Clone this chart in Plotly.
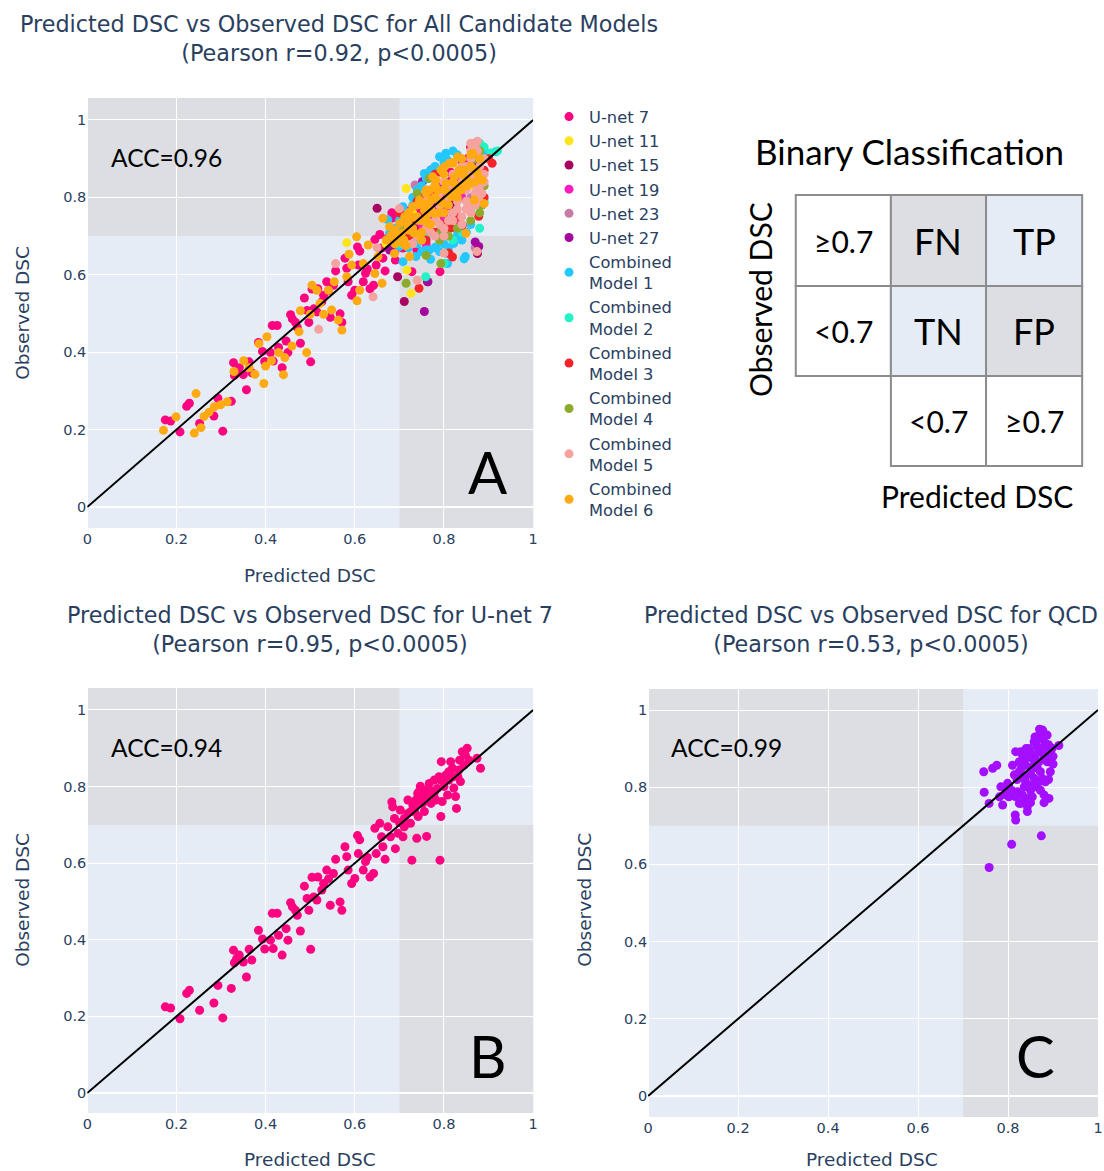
import plotly.graph_objects as go

W, H = 1104, 1171

# ------------------------------------------------------------------
# DATA  (predicted DSC, observed DSC) pairs
# ------------------------------------------------------------------
unet7 = [(0.175,0.225),(0.187,0.222),(0.208,0.194),(0.223,0.26),(0.229,0.268),(0.252,0.216),
         (0.284,0.235),(0.293,0.281),(0.304,0.196),(0.323,0.273),(0.328,0.373),(0.33,0.34),
         (0.335,0.351),(0.341,0.36),(0.35,0.342),(0.357,0.303),(0.363,0.375),(0.369,0.347),
         (0.384,0.425),(0.393,0.402),(0.398,0.376),(0.415,0.469),(0.426,0.469),(0.417,0.377),
         (0.411,0.399),(0.429,0.412),(0.437,0.36),(0.446,0.429),(0.45,0.399),(0.456,0.497),
         (0.46,0.486),(0.467,0.477),(0.471,0.464),(0.478,0.423),(0.487,0.54),(0.493,0.508),
         (0.497,0.477),(0.501,0.375),(0.508,0.512),(0.515,0.504),(0.504,0.563),(0.517,0.564),
         (0.526,0.53),(0.53,0.547),(0.537,0.582),(0.541,0.559),(0.545,0.49),(0.552,0.573),
         (0.557,0.61),(0.567,0.499),(0.571,0.477),(0.578,0.643),(0.582,0.617),(0.585,0.582),
         (0.593,0.547),(0.6,0.56),(0.606,0.672),(0.608,0.625),(0.611,0.661),(0.619,0.582),
         (0.624,0.604),(0.628,0.615),(0.634,0.564),(0.642,0.573),(0.645,0.691),(0.648,0.625),
         (0.656,0.704),(0.66,0.669),(0.663,0.643),(0.668,0.61),(0.674,0.695),(0.68,0.669),
         (0.683,0.76),(0.685,0.747),(0.689,0.717),(0.691,0.638),(0.697,0.678),(0.7,0.706),
         (0.702,0.739),(0.708,0.669),(0.711,0.717),(0.719,0.73),(0.725,0.704),(0.728,0.608),
         (0.73,0.752),(0.734,0.735),(0.737,0.765),(0.739,0.665),(0.742,0.722),(0.744,0.787),
         (0.747,0.801),(0.748,0.773),(0.752,0.756),(0.756,0.735),(0.759,0.791),(0.761,0.67),
         (0.763,0.778),(0.767,0.808),(0.771,0.756),(0.774,0.787),(0.778,0.817),(0.782,0.765),
         (0.785,0.795),(0.789,0.826),(0.791,0.608),(0.793,0.722),(0.794,0.865),(0.796,0.761),
         (0.8,0.8),(0.804,0.83),(0.808,0.778),(0.811,0.817),(0.815,0.865),(0.819,0.848),
         (0.822,0.796),(0.826,0.774),(0.828,0.743),(0.831,0.826),(0.835,0.869),(0.837,0.813),
         (0.841,0.891),(0.845,0.856),(0.848,0.882),(0.852,0.9),(0.856,0.869),(0.874,0.874),
         (0.882,0.848),(0.778,0.782),(0.756,0.765),(0.734,0.748),(0.811,0.839),(0.822,0.826),
         (0.833,0.843),(0.793,0.817),(0.767,0.791),(0.726,0.735),(0.711,0.695),(0.741,0.782),
         (0.719,0.765)]

unet11 = [(0.715,0.823),(0.726,0.552),(0.717,0.612),(0.67,0.68),(0.71,0.73),(0.73,0.76),
          (0.84,0.70),(0.86,0.83),(0.79,0.74),(0.88,0.90),(0.582,0.683)]

unet15 = [(0.65,0.772),(0.711,0.531),(0.696,0.595),(0.875,0.655),(0.771,0.871),(0.763,0.582),
          (0.82,0.78),(0.85,0.84),(0.74,0.73),(0.87,0.88),(0.80,0.70)]

unet19 = [(0.72,0.71),(0.75,0.73),(0.78,0.77),(0.83,0.83),(0.86,0.88),(0.69,0.66),
          (0.80,0.75),(0.84,0.80),(0.76,0.68),(0.88,0.91)]

unet23 = [(0.735,0.832),(0.808,0.655),(0.87,0.67),(0.77,0.79),(0.83,0.86),(0.86,0.80),
          (0.72,0.74),(0.80,0.88)]

unet27 = [(0.752,0.841),(0.878,0.673),(0.756,0.505),(0.678,0.664),(0.764,0.582),(0.87,0.685),
          (0.80,0.87),(0.86,0.93),(0.82,0.76),(0.74,0.70)]

combined1 = [(0.804,0.914),(0.808,0.897),(0.756,0.862),(0.763,0.849),(0.708,0.776),(0.674,0.742),
             (0.678,0.707),(0.70,0.673),(0.767,0.664),(0.822,0.681),(0.848,0.647),(0.737,0.647),
             (0.793,0.69),(0.916,0.918),(0.78,0.88),(0.79,0.905),(0.82,0.92),(0.75,0.83),
             (0.73,0.80),(0.72,0.76),(0.69,0.72),(0.71,0.69),(0.74,0.68),(0.76,0.70),
             (0.78,0.67),(0.80,0.68),(0.83,0.70),(0.85,0.71),(0.86,0.73),(0.808,0.629),
             (0.845,0.641),(0.782,0.672),(0.76,0.664),(0.708,0.634),(0.831,0.707),(0.90,0.91),
             (0.89,0.92),(0.77,0.64),(0.77,0.87),(0.76,0.85),(0.74,0.82),(0.73,0.78),
             (0.71,0.75),(0.70,0.74),(0.69,0.70),(0.72,0.67),(0.75,0.66),(0.79,0.66),
             (0.81,0.67),(0.84,0.69),(0.80,0.89),(0.83,0.91),(0.79,0.87)]

combined2 = [(0.92,0.92),(0.905,0.915),(0.759,0.595),(0.89,0.93),(0.88,0.94),(0.86,0.77),
             (0.84,0.71),(0.82,0.69),(0.76,0.71),(0.70,0.68),(0.78,0.83),(0.89,0.79),
             (0.80,0.63),(0.88,0.72)]

combined3 = [(0.908,0.888),(0.811,0.656),(0.815,0.721),(0.878,0.751),(0.841,0.728),(0.744,0.565),
             (0.819,0.646),(0.87,0.94),(0.86,0.93),(0.89,0.87),(0.90,0.90),(0.88,0.82),
             (0.87,0.79),(0.80,0.73),(0.78,0.71),(0.76,0.69),(0.83,0.75),(0.72,0.70),
             (0.70,0.76),(0.74,0.79),(0.78,0.86),(0.89,0.80)]

combined4 = [(0.767,0.849),(0.793,0.711),(0.885,0.78),(0.715,0.578),(0.793,0.629),(0.88,0.92),
             (0.87,0.90),(0.885,0.85),(0.88,0.76),(0.86,0.74),(0.83,0.72),(0.81,0.70),
             (0.79,0.69),(0.75,0.74),(0.73,0.71),(0.71,0.72),(0.89,0.83),(0.74,0.81),
             (0.76,0.65),(0.87,0.93)]

combined5 = [(0.80,0.84),(0.82,0.86),(0.84,0.88),(0.86,0.90),(0.87,0.93),(0.875,0.945),
             (0.86,0.92),(0.85,0.86),(0.83,0.82),(0.81,0.80),(0.79,0.78),(0.77,0.76),
             (0.85,0.82),(0.87,0.86),(0.88,0.88),(0.885,0.81),(0.87,0.78),(0.86,0.76),
             (0.84,0.75),(0.82,0.74),(0.80,0.72),(0.78,0.70),(0.76,0.72),(0.74,0.70),
             (0.72,0.72),(0.70,0.771),(0.874,0.66),(0.80,0.656),(0.74,0.586),(0.519,0.459),
             (0.557,0.629),(0.641,0.543),(0.65,0.67),(0.89,0.90),(0.88,0.83),(0.83,0.79),
             (0.85,0.79),(0.79,0.81),(0.81,0.83),(0.76,0.79),(0.85,0.77),(0.86,0.78),
             (0.87,0.81),(0.88,0.85),(0.89,0.86),(0.88,0.79),(0.87,0.83),(0.86,0.85),
             (0.84,0.84),(0.85,0.88),(0.86,0.94),(0.83,0.77),(0.82,0.76),(0.81,0.74),
             (0.79,0.73),(0.77,0.71),(0.75,0.69),(0.73,0.68),(0.875,0.92),(0.865,0.87),
             (0.89,0.84),(0.84,0.73),(0.80,0.70),(0.78,0.74)]

combined6 = [(0.171,0.198),(0.199,0.233),(0.244,0.293),(0.24,0.191),(0.255,0.205),(0.262,0.234),
             (0.273,0.245),(0.285,0.259),(0.299,0.264),(0.314,0.272),(0.329,0.35),(0.351,0.378),
             (0.363,0.36),(0.376,0.343),(0.385,0.422),(0.396,0.319),(0.4,0.364),(0.403,0.44),
             (0.413,0.378),(0.429,0.399),(0.44,0.342),(0.443,0.386),(0.459,0.416),(0.475,0.453),
             (0.478,0.507),(0.492,0.399),(0.5,0.498),(0.504,0.573),(0.515,0.56),(0.522,0.526),
             (0.53,0.498),(0.541,0.56),(0.548,0.509),(0.554,0.582),(0.563,0.483),(0.571,0.457),
             (0.582,0.595),(0.587,0.653),(0.593,0.625),(0.604,0.698),(0.605,0.533),(0.611,0.56),
             (0.619,0.629),(0.63,0.677),(0.645,0.603),(0.652,0.647),(0.661,0.578),(0.663,0.746),
             (0.671,0.69),(0.678,0.724),(0.689,0.655),(0.693,0.698),(0.701,0.733),(0.708,0.681),
             (0.712,0.75),(0.719,0.716),(0.723,0.647),(0.73,0.776),(0.734,0.707),(0.741,0.741),
             (0.745,0.793),(0.749,0.69),(0.756,0.767),(0.76,0.819),(0.764,0.733),(0.771,0.793),
             (0.775,0.853),(0.779,0.759),(0.786,0.819),(0.793,0.871),(0.797,0.784),(0.805,0.836),
             (0.812,0.888),(0.816,0.802),(0.823,0.853),(0.831,0.905),(0.838,0.819),(0.845,0.871),
             (0.849,0.707),(0.857,0.836),(0.864,0.914),(0.868,0.793),(0.875,0.862),(0.886,0.845),
             (0.89,0.784),(0.689,0.716),(0.705,0.707),(0.727,0.75),(0.753,0.784),(0.768,0.819),
             (0.782,0.845),(0.801,0.879),(0.82,0.888),(0.834,0.871),(0.827,0.819),
             (0.70,0.70),(0.71,0.69),(0.72,0.73),(0.73,0.72),(0.74,0.75),(0.75,0.74),
             (0.76,0.78),(0.77,0.77),(0.78,0.80),(0.79,0.79),(0.80,0.82),(0.81,0.81),
             (0.82,0.84),(0.83,0.83),(0.84,0.86),(0.85,0.85),(0.86,0.88),(0.87,0.87),
             (0.88,0.90),(0.72,0.76),(0.74,0.78),(0.76,0.81),(0.78,0.83),(0.80,0.86),
             (0.82,0.89),(0.75,0.71),(0.77,0.73),(0.79,0.76),(0.81,0.78),(0.83,0.80),
             (0.85,0.83),(0.87,0.84),(0.69,0.68),(0.68,0.70),(0.715,0.675),(0.745,0.705),
             (0.84,0.90),(0.86,0.91),(0.80,0.76),(0.76,0.75)]

qcd = [(0.758,0.592),(0.808,0.652),(0.874,0.674),(0.816,0.728),(0.817,0.715),(0.843,0.737),
       (0.747,0.787),(0.746,0.84),(0.766,0.849),(0.775,0.857),(0.758,0.758),(0.784,0.801),
       (0.788,0.754),(0.802,0.775),(0.799,0.81),(0.81,0.857),(0.821,0.788),(0.825,0.758),
       (0.828,0.892),(0.832,0.827),(0.836,0.866),(0.843,0.771),(0.847,0.9),(0.85,0.836),
       (0.854,0.875),(0.858,0.918),(0.861,0.801),(0.865,0.849),(0.869,0.935),(0.872,0.892),
       (0.876,0.823),(0.877,0.948),(0.88,0.78),(0.883,0.914),(0.887,0.866),(0.891,0.771),
       (0.894,0.84),(0.898,0.901),(0.887,0.935),(0.913,0.908),(0.817,0.892),(0.825,0.84),
       (0.839,0.814),(0.854,0.805),(0.869,0.814),(0.88,0.875),(0.865,0.905),(0.85,0.792),
       (0.839,0.857),(0.814,0.832),(0.832,0.78),(0.876,0.927),(0.861,0.884),(0.883,0.814),
       (0.891,0.892),(0.828,0.758),(0.843,0.75),(0.802,0.801),(0.781,0.775),(0.825,0.866),
       (0.832,0.884),(0.854,0.853),(0.869,0.866),(0.883,0.884),(0.872,0.84),(0.858,0.823),
       (0.891,0.866),(0.865,0.922),(0.88,0.9),(0.843,0.879),(0.817,0.775),(0.795,0.78),
       (0.836,0.801),(0.854,0.775),(0.872,0.792),(0.84,0.83),(0.86,0.86),(0.87,0.90),
       (0.85,0.89),(0.86,0.93),(0.87,0.95),(0.88,0.93),(0.89,0.91),(0.90,0.88),(0.89,0.82),
       (0.86,0.81),(0.82,0.82),(0.81,0.79),(0.79,0.80),(0.83,0.76),(0.85,0.76),(0.88,0.76),
       (0.84,0.90),(0.83,0.85),(0.90,0.86)]

model_names = ["U-net 7", "U-net 11", "U-net 15", "U-net 19", "U-net 23", "U-net 27",
               "Combined<br>Model 1", "Combined<br>Model 2", "Combined<br>Model 3",
               "Combined<br>Model 4", "Combined<br>Model 5", "Combined<br>Model 6"]
model_colors = ["#FC0380", "#FFE41C", "#A8045F", "#FF1CBE", "#C97BA8", "#A3079D",
                "#22C8FF", "#22F2C6", "#F5222A", "#8CAB2C", "#F6A39F", "#FFAA12"]
model_data = [unet7, unet11, unet15, unet19, unet23, unet27,
              combined1, combined2, combined3, combined4, combined5, combined6]
qcd_color = "#A40FFF"

diag_x = [0, 1]
diag_y = [0, 1]
threshold = 0.7

# ------------------------------------------------------------------
def px(x):  # pixel -> paper x
    return x / W

def py(y):  # pixel -> paper y
    return 1 - y / H

FONT = "DejaVu Sans, Verdana, sans-serif"
CAL = "Lato, 'Noto Sans', sans-serif"
TXT = "#2a3f5f"
GRAY = "#DCDEE3"
BLUE = "#E5ECF6"

fig = go.Figure()

for name, col, pts in zip(model_names, model_colors, model_data):
    fig.add_trace(go.Scatter(x=[p[0] for p in pts], y=[p[1] for p in pts], mode="markers",
                             name=name, marker=dict(color=col, size=9),
                             xaxis="x", yaxis="y"))
fig.add_trace(go.Scatter(x=diag_x, y=diag_y, mode="lines", line=dict(color="black", width=2),
                         showlegend=False, xaxis="x", yaxis="y"))

fig.add_trace(go.Scatter(x=[p[0] for p in unet7], y=[p[1] for p in unet7], mode="markers",
                         name="U-net 7", marker=dict(color=model_colors[0], size=9),
                         showlegend=False, xaxis="x2", yaxis="y2"))
fig.add_trace(go.Scatter(x=diag_x, y=diag_y, mode="lines", line=dict(color="black", width=2),
                         showlegend=False, xaxis="x2", yaxis="y2"))

fig.add_trace(go.Scatter(x=[p[0] for p in qcd], y=[p[1] for p in qcd], mode="markers",
                         name="QCD", marker=dict(color=qcd_color, size=9),
                         showlegend=False, xaxis="x3", yaxis="y3"))
fig.add_trace(go.Scatter(x=diag_x, y=diag_y, mode="lines", line=dict(color="black", width=2),
                         showlegend=False, xaxis="x3", yaxis="y3"))

# axes domains in pixels
panels = {
    "A": dict(x=(83, 533), y=(98, 528), yr=[-0.0543, 1.0568]),
    "B": dict(x=(83, 533), y=(688, 1113), yr=[-0.0522, 1.0574]),
    "C": dict(x=(649, 1103), y=(689, 1117), yr=[-0.0544, 1.0544]),
}

axis_common = dict(showgrid=True, gridcolor="white", gridwidth=1, zeroline=True,
                   zerolinecolor="white", zerolinewidth=2, showline=False, ticks="",
                   tickfont=dict(family=FONT, size=14.5, color=TXT), dtick=0.2, tick0=0)

layout = dict(width=W, height=H, margin=dict(l=0, r=0, t=0, b=0),
              paper_bgcolor="white", plot_bgcolor=BLUE, font=dict(family=FONT, color=TXT),
              showlegend=True,
              legend=dict(x=px(549), y=py(99.5), xanchor="left", yanchor="top",
                          font=dict(family=FONT, size=16.3, color=TXT), bgcolor="rgba(0,0,0,0)",
                          tracegroupgap=0, itemsizing="trace"))

for i, key in enumerate(["A", "B", "C"]):
    p = panels[key]
    sfx = "" if i == 0 else str(i + 1)
    layout["xaxis" + sfx] = dict(domain=[px(p["x"][0]), px(p["x"][1])], range=[0, 1],
                                 anchor="y" + sfx, **axis_common)
    layout["yaxis" + sfx] = dict(domain=[py(p["y"][1]), py(p["y"][0])], range=p["yr"],
                                 anchor="x" + sfx, **axis_common)

fig.update_layout(**layout)

shapes = []
for sfx in ["", "2", "3"]:
    shapes.append(dict(type="rect", xref="x" + sfx, yref="y" + sfx, x0=threshold, x1=2,
                       y0=-1, y1=threshold, fillcolor=GRAY, line=dict(width=0), layer="below"))
    shapes.append(dict(type="rect", xref="x" + sfx, yref="y" + sfx, x0=-1, x1=threshold,
                       y0=threshold, y1=2, fillcolor=GRAY, line=dict(width=0), layer="below"))

# binary classification table
col_edges = [798, 894, 990, 1087]
row_edges = [195, 286, 376, 466]
cells = [
    (0, 0, "≥0.7", "white", 30), (0, 1, "FN", GRAY, 36), (0, 2, "TP", BLUE, 36),
    (1, 0, "<0.7", "white", 30), (1, 1, "TN", BLUE, 36), (1, 2, "FP", GRAY, 36),
    (2, 1, "<0.7", "white", 30), (2, 2, "≥0.7", "white", 30),
]
annotations = []
for r, c, txt, fill, fs in cells:
    x0, x1 = col_edges[c], col_edges[c + 1]
    y0, y1 = row_edges[r], row_edges[r + 1]
    shapes.append(dict(type="rect", xref="paper", yref="paper", x0=px(x0), x1=px(x1),
                       y0=py(y1), y1=py(y0), fillcolor=fill,
                       line=dict(color="#8C8C8C", width=2), layer="above"))
    annotations.append(dict(xref="paper", yref="paper", x=px((x0 + x1) / 2), y=py((y0 + y1) / 2),
                            text=txt, showarrow=False, xanchor="center", yanchor="middle",
                            font=dict(family=CAL, size=fs, color="black")))

annotations += [
    dict(x=px(913), y=py(151), text="Binary Classification", font=dict(family=CAL, size=35, color="black")),
    dict(x=px(762), y=py(300), text="Observed DSC", textangle=-90, font=dict(family=CAL, size=30, color="black")),
    dict(x=px(981), y=py(496), text="Predicted DSC", font=dict(family=CAL, size=30, color="black")),
    # panel titles
    dict(x=px(337), y=py(38), text="Predicted DSC vs Observed DSC for All Candidate Models<br>(Pearson r=0.92, p&lt;0.0005)",
         font=dict(family=FONT, size=22.3, color=TXT)),
    dict(x=px(308), y=py(629), text="Predicted DSC vs Observed DSC for U-net 7<br>(Pearson r=0.95, p&lt;0.0005)",
         font=dict(family=FONT, size=22.3, color=TXT)),
    dict(x=px(874), y=py(629), text="Predicted DSC vs Observed DSC for QCD<br>(Pearson r=0.53, p&lt;0.0005)",
         font=dict(family=FONT, size=22.3, color=TXT)),
    # axis titles
    dict(x=px(308), y=py(575), text="Predicted DSC", font=dict(family=FONT, size=18.5, color=TXT)),
    dict(x=px(308), y=py(1159), text="Predicted DSC", font=dict(family=FONT, size=18.5, color=TXT)),
    dict(x=px(875), y=py(1159), text="Predicted DSC", font=dict(family=FONT, size=18.5, color=TXT)),
    dict(x=px(17), y=py(313), text="Observed DSC", textangle=-90, font=dict(family=FONT, size=18.5, color=TXT)),
    dict(x=px(17), y=py(900), text="Observed DSC", textangle=-90, font=dict(family=FONT, size=18.5, color=TXT)),
    dict(x=px(584), y=py(900), text="Observed DSC", textangle=-90, font=dict(family=FONT, size=18.5, color=TXT)),
    # ACC labels and panel letters
    dict(x=px(105), y=py(157), text="ACC=0.96", xanchor="left", font=dict(family=CAL, size=24.5, color="black")),
    dict(x=px(105), y=py(747), text="ACC=0.94", xanchor="left", font=dict(family=CAL, size=24.5, color="black")),
    dict(x=px(670), y=py(747), text="ACC=0.99", xanchor="left", font=dict(family=CAL, size=24.5, color="black")),
    dict(x=px(487), y=py(471), text="A", font=dict(family=CAL, size=58, color="black")),
    dict(x=px(487), y=py(1055), text="B", font=dict(family=CAL, size=58, color="black")),
    dict(x=px(1040), y=py(1055), text="C", font=dict(family=CAL, size=58, color="black")),
]
for a in annotations:
    a.setdefault("xref", "paper")
    a.setdefault("yref", "paper")
    a.setdefault("showarrow", False)
    a.setdefault("xanchor", "center")
    a.setdefault("yanchor", "middle")

fig.update_layout(shapes=shapes, annotations=annotations)
fig.write_html("out.html", config={"displayModeBar": False},
               post_script="document.body.style.margin='0';document.body.style.overflow='hidden';")
